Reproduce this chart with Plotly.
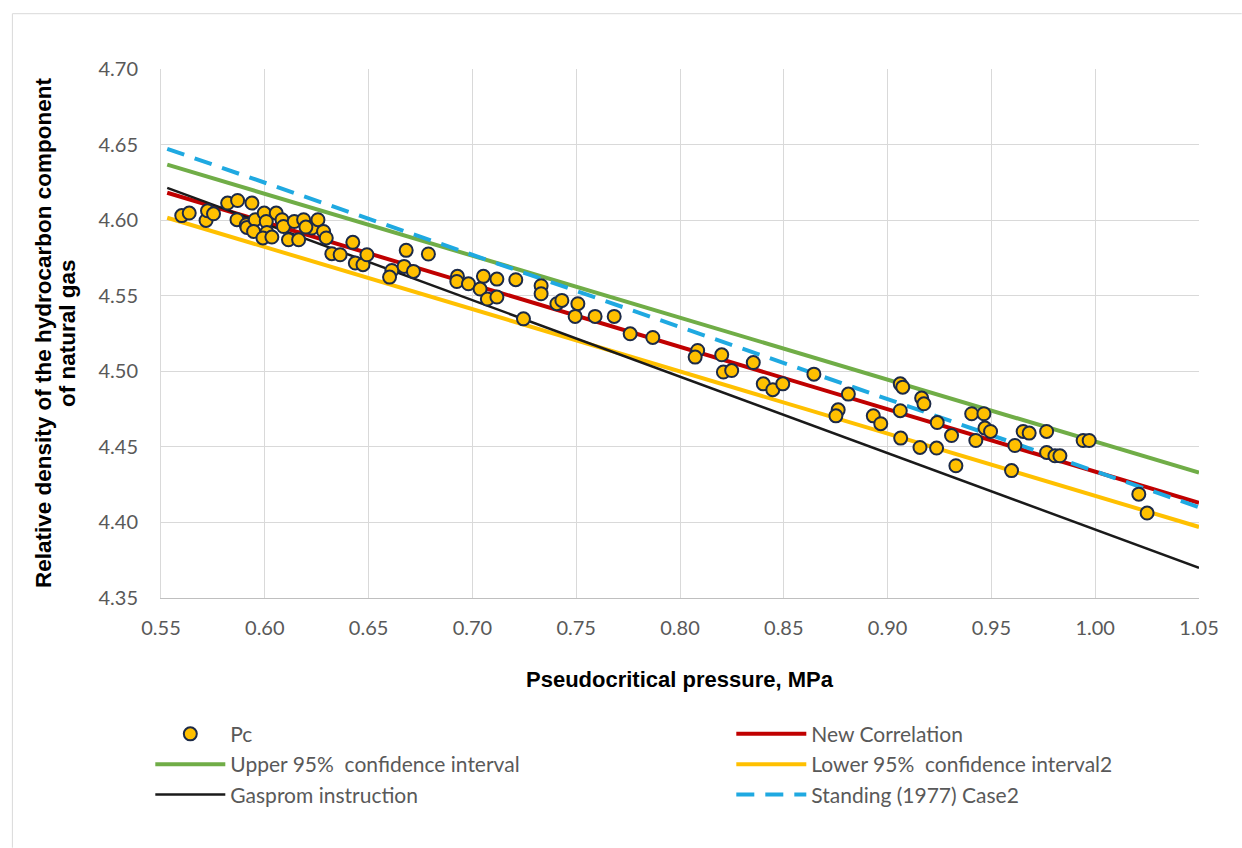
import plotly.graph_objects as go

# ---- data ----
pc_x = [0.560, 0.5636, 0.5717, 0.5724, 0.5753, 0.5821, 0.5869, 0.5938, 0.5866, 0.5911,
        0.5914, 0.5954, 0.5946, 0.5997, 0.6007, 0.6010, 0.5991, 0.6034, 0.6055, 0.6083,
        0.6090, 0.6114, 0.6163, 0.6142, 0.6187, 0.6227, 0.6256, 0.6283, 0.6296, 0.6198,
        0.6424, 0.6323, 0.6363, 0.6436, 0.6473, 0.6492, 0.6681, 0.6788, 0.6612, 0.6601,
        0.6671, 0.6716, 0.6928, 0.6925, 0.6981, 0.7053, 0.7037, 0.7072, 0.7118, 0.7118,
        0.7209, 0.7246, 0.7331, 0.7331, 0.7407, 0.7431, 0.7508, 0.7495, 0.7591, 0.7683,
        0.7760, 0.7869, 0.8085, 0.8073, 0.8201, 0.8209, 0.8249, 0.8353, 0.8401, 0.8447,
        0.8495, 0.8645, 0.8811, 0.8762, 0.8751, 0.8931, 0.8967, 0.9061, 0.9073, 0.9061,
        0.9063, 0.9164, 0.9175, 0.9156, 0.9239, 0.9236, 0.9308, 0.9329, 0.9405, 0.9464,
        0.9469, 0.9496, 0.9425, 0.9613, 0.9597, 0.9653, 0.9682, 0.9766, 0.9766, 0.9806,
        0.9830, 0.9942, 0.9971, 1.0210, 1.0250]
pc_y = [4.6030, 4.6047, 4.5998, 4.6062, 4.6042, 4.6113, 4.6130, 4.6113, 4.6003, 4.5970,
        4.5952, 4.6003, 4.5925, 4.6047, 4.5991, 4.5919, 4.5882, 4.5888, 4.6047, 4.6003,
        4.5958, 4.5870, 4.5870, 4.5991, 4.6003, 4.5948, 4.6003, 4.5925, 4.5882, 4.5954,
        4.5853, 4.5778, 4.5771, 4.5716, 4.5705, 4.5771, 4.5800, 4.5776, 4.5667, 4.5623,
        4.5694, 4.5661, 4.5628, 4.5594, 4.5579, 4.5628, 4.5544, 4.5478, 4.5491, 4.5610,
        4.5606, 4.5347, 4.5566, 4.5513, 4.5447, 4.5469, 4.5447, 4.5363, 4.5363, 4.5363,
        4.5248, 4.5224, 4.5138, 4.5094, 4.5109, 4.4995, 4.5005, 4.5058, 4.4917, 4.4878,
        4.4917, 4.4981, 4.4849, 4.4745, 4.4705, 4.4705, 4.4653, 4.4917, 4.4895, 4.4739,
        4.4558, 4.4823, 4.4785, 4.4496, 4.4661, 4.4492, 4.4575, 4.4375, 4.4719, 4.4719,
        4.4624, 4.4602, 4.4542, 4.4509, 4.4343, 4.4602, 4.4591, 4.4602, 4.4463, 4.4441,
        4.4441, 4.4542, 4.4542, 4.4187, 4.4062]

line_x = [0.553, 1.05]
new_corr_y = [4.6181, 4.4130]
upper_y = [4.6367, 4.4330]
lower_y = [4.6016, 4.3970]
gasprom_y = [4.6214, 4.3700]
standing_y = [4.6472, 4.4100]

x_ticks = [0.55, 0.60, 0.65, 0.70, 0.75, 0.80, 0.85, 0.90, 0.95, 1.00, 1.05]
y_ticks = [4.35, 4.40, 4.45, 4.50, 4.55, 4.60, 4.65, 4.70]

# ---- figure ----
W, H = 1242, 848
L, R, T, B = 160.7, 1199.3, 69.3, 598.3
pw, ph = R - L, B - T


def px(x):
    return (x - L) / pw


def py(y):
    return (B - y) / ph


fig = go.Figure()

fig.add_trace(go.Scatter(x=line_x, y=new_corr_y, mode="lines", name="New Correlation",
                         line=dict(color="#C00000", width=4), legendrank=2))
fig.add_trace(go.Scatter(x=line_x, y=upper_y, mode="lines", name="Upper 95%  confidence interval",
                         line=dict(color="#70AD47", width=4), legendrank=3))
fig.add_trace(go.Scatter(x=line_x, y=lower_y, mode="lines", name="Lower 95%  confidence interval2",
                         line=dict(color="#FFC000", width=4), legendrank=4))
fig.add_trace(go.Scatter(x=line_x, y=gasprom_y, mode="lines", name="Gasprom instruction",
                         line=dict(color="#1a1a1a", width=2.5), legendrank=5))
fig.add_trace(go.Scatter(x=line_x, y=standing_y, mode="lines", name="Standing (1977) Case2",
                         line=dict(color="#1FA9E1", width=4, dash="18px,11px"), legendrank=6))
fig.add_trace(go.Scatter(x=pc_x, y=pc_y, mode="markers", name="Pc", legendrank=1,
                         marker=dict(size=13, color="#FFC000",
                                     line=dict(color="#1c2a48", width=2))))

tickfont = dict(family="Lato, Open Sans, sans-serif", size=20, color="#595959")

fig.update_layout(
    width=W, height=H,
    margin=dict(l=L, r=W - R, t=T, b=H - B, pad=0, autoexpand=False),
    paper_bgcolor="white", plot_bgcolor="white",
    showlegend=True,
    legend=dict(orientation="h", x=px(150), xanchor="left", y=py(714), yanchor="top",
                entrywidth=496, entrywidthmode="pixels", itemwidth=70,
                traceorder="normal", itemsizing="trace",
                font=dict(family="Lato, Open Sans, sans-serif", size=21, color="#595959"),
                bgcolor="rgba(0,0,0,0)"),
    xaxis=dict(range=[0.55, 1.05], tickvals=x_ticks, tickformat=".2f",
               showgrid=True, gridcolor="#D9D9D9", gridwidth=1,
               showline=True, linecolor="#BFBFBF", linewidth=1,
               zeroline=False, ticks="", tickfont=tickfont, ticklabelstandoff=12),
    yaxis=dict(range=[4.35, 4.70], tickvals=y_ticks, tickformat=".2f",
               showgrid=True, gridcolor="#D9D9D9", gridwidth=1,
               showline=True, linecolor="#D9D9D9", linewidth=1,
               zeroline=False, ticks="", tickfont=tickfont, ticklabelstandoff=18),
)

titlefont = dict(family="Liberation Sans, Arial, sans-serif", size=22, color="#000000")
yfont = dict(family="Liberation Sans, Arial, sans-serif", size=22.5, color="#000000")
fig.add_annotation(text="<b>Pseudocritical pressure, MPa</b>", xref="paper", yref="paper",
                   x=px(680), y=py(680), xanchor="center", yanchor="middle", showarrow=False,
                   font=titlefont)
fig.add_annotation(text="<b>Relative density of the hydrocarbon component</b>",
                   xref="paper", yref="paper", x=px(43), y=py(333), xanchor="center",
                   yanchor="middle", textangle=-90, showarrow=False, font=yfont)
fig.add_annotation(text="<b>of natural gas</b>",
                   xref="paper", yref="paper", x=px(67), y=py(333), xanchor="center",
                   yanchor="middle", textangle=-90, showarrow=False, font=yfont)

# outer chart border (top and left)
fig.add_shape(type="line", xref="paper", yref="paper", x0=px(12), x1=px(1242), y0=py(14), y1=py(14),
              line=dict(color="#D9D9D9", width=1))
fig.add_shape(type="line", xref="paper", yref="paper", x0=px(12), x1=px(12), y0=py(14), y1=py(848),
              line=dict(color="#D9D9D9", width=1))

fig.write_html("out.html")
